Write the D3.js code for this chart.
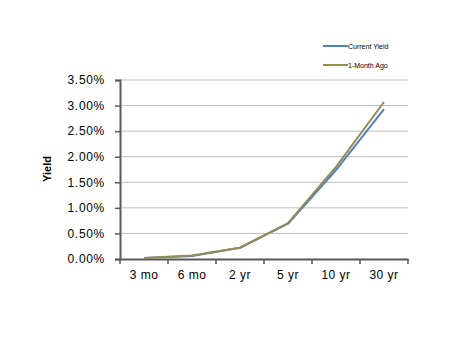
<!DOCTYPE html>
<html><head><meta charset="utf-8">
<script src="https://cdn.jsdelivr.net/npm/d3@7"></script>
<style>body{margin:0;background:#fff}svg{display:block}text{font-family:Arial,"Liberation Sans",sans-serif}</style>
</head><body>
<svg id="c" width="467" height="341"></svg>
<script>
const categories = ["3 mo","6 mo","2 yr","5 yr","10 yr","30 yr"];
const currentYield = [0.02, 0.06, 0.22, 0.69, 1.74, 2.93];
const monthAgo = [0.02, 0.07, 0.22, 0.70, 1.80, 3.07];
const yTicks = [0, 0.5, 1.0, 1.5, 2.0, 2.5, 3.0, 3.5];
const seriesNames = ["Current Yield", "1-Month Ago"];
const colors = ["#4F81BD", "#948A54"];

const svg = d3.select("#c");
const x = d3.scaleBand().domain(categories).range([120, 408]);
const y = d3.scaleLinear().domain([0, 3.5]).range([259, 80]);

// gridlines
svg.append("g").selectAll("line").data(yTicks.slice(1)).join("line")
  .attr("x1", 120).attr("x2", 408)
  .attr("y1", d => y(d)).attr("y2", d => y(d))
  .attr("stroke", "#BFBFBF").attr("stroke-width", 1);

// y axis
const ya = svg.append("g").attr("transform", "translate(120,0)")
  .call(d3.axisLeft(y).tickValues(yTicks).tickFormat(d => d3.format(".2f")(d) + "%").tickSize(5).tickPadding(10));
ya.select(".domain").attr("stroke", "#595959").attr("stroke-width", 2);
ya.selectAll(".tick line").attr("stroke", "#595959").attr("stroke-width", 1.5);
ya.selectAll("text").attr("font-size", 12).attr("fill", "#000").style("letter-spacing", "0.7px")
  .style("font-family", "Arial, 'Liberation Sans', sans-serif");

// x axis
const xa = svg.append("g").attr("transform", "translate(0,259)")
  .call(d3.axisBottom(x).tickSize(0).tickPadding(11));
xa.select(".domain").attr("stroke", "#595959").attr("stroke-width", 2);
xa.selectAll("text").attr("font-size", 12).attr("fill", "#000").style("letter-spacing", "0.5px")
  .style("font-family", "Arial, 'Liberation Sans', sans-serif");
// category boundary ticks
const bounds = categories.map(c => x(c)).concat([x.range()[1]]);
svg.append("g").selectAll("line").data(bounds).join("line")
  .attr("x1", d => d).attr("x2", d => d).attr("y1", 259).attr("y2", 264)
  .attr("stroke", "#595959").attr("stroke-width", 1.5);

// lines
const line = d3.line().x((d, i) => x(categories[i]) + x.bandwidth() / 2).y(d => y(d));
[currentYield, monthAgo].forEach((s, i) => {
  svg.append("path").datum(s).attr("d", line).attr("fill", "none")
    .attr("stroke", colors[i]).attr("stroke-width", 2).attr("stroke-linejoin", "round");
});

// y label
svg.append("text").attr("transform", "translate(51,169) rotate(-90)")
  .attr("text-anchor", "middle").attr("font-size", 11).attr("font-weight", "bold").text("Yield");

// legend
seriesNames.forEach((n, i) => {
  const ly = 46 + i * 19;
  svg.append("line").attr("x1", 323).attr("x2", 348).attr("y1", ly).attr("y2", ly)
    .attr("stroke", colors[i]).attr("stroke-width", 2);
  svg.append("text").attr("x", 348).attr("y", ly + 2.5).attr("font-size", 7).attr("fill", "#000").text(n);
});
</script>
</body></html>
